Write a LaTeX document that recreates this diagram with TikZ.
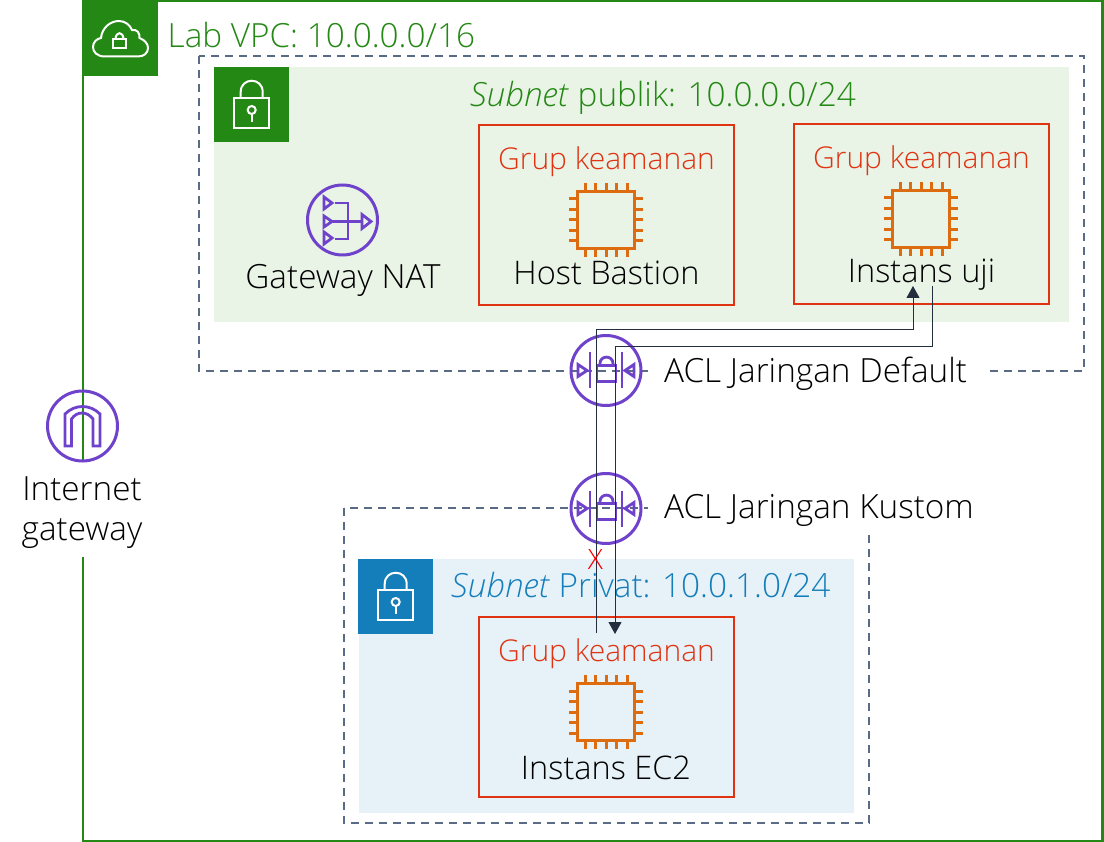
\documentclass[tikz,border=0pt]{standalone}
\usepackage{fontspec}
\setmainfont{Open Sans Light}[ItalicFont={Open Sans Light Italic}]
\usetikzlibrary{arrows.meta}
\definecolor{vpcgreen}{HTML}{248814}
\definecolor{pubfill}{HTML}{E9F3E6}
\definecolor{privfill}{HTML}{E6F2F8}
\definecolor{privblue}{HTML}{147EBA}
\definecolor{sgred}{HTML}{DF3312}
\definecolor{chip}{HTML}{DD6B10}
\definecolor{acl}{HTML}{6F42CC}
\definecolor{dash}{HTML}{5A6B86}
\definecolor{conn}{HTML}{232F3E}
\tikzset{
  x=1pt,y=-1pt,
  lbl/.style={font=\fontsize{33.3}{40}\selectfont,inner sep=0pt,text=black,align=center},
  redlbl/.style={font=\fontsize{30}{36}\selectfont,inner sep=0pt,text=sgred,align=center},
  sublbl/.style={font=\fontsize{32.5}{40}\selectfont,inner sep=0pt,text=black,align=center},
  sgbox/.style={draw=sgred,line width=2.2pt},
  dashbox/.style={draw=dash,line width=1.8pt,dash pattern=on 8pt off 6pt},
  link/.style={draw=conn,line width=1pt},
  linkarrow/.style={link,-{Triangle[length=12pt,width=13pt]}},
  icon/.style={draw=acl,line width=2.8pt,line join=miter},
  ring/.style={draw=acl,line width=3pt},
  whiteicon/.style={draw=white,line width=2pt},
  pics/aclicon/.style={code={
    \draw[ring] (0,0) circle (35);
    \draw[icon] (-16,-18) -- (-16,18) (16,-18) -- (16,18);
    \draw[icon] (-9,-5) rectangle (10,11);
    \draw[icon] (-6,-5) -- (-6,-7) .. controls (-6,-15.5) and (7,-15.5) .. (7,-7) -- (7,-5);
    \draw[icon] (-28,-6) -- (-19,0) -- (-28,6) -- cycle;
    \draw[icon] (28,-6) -- (19,0) -- (28,6) -- cycle;
  }},
  pics/chipicon/.style={code={
    \draw[draw=chip,line width=3.6pt] (-28.5,-28.5) rectangle (28.5,28.5);
    \foreach \t in {-21,-10.5,0,10.5,21}{
      \draw[draw=chip,line width=3pt] (\t,-28.5) -- (\t,-37) (\t,28.5) -- (\t,37)
        (-28.5,\t) -- (-37,\t) (28.5,\t) -- (37,\t);
    }
  }},
  pics/lockicon/.style={code={
    \draw[whiteicon] (-17.5,0) rectangle (17.5,30);
    \draw[whiteicon] (-11,0) -- (-11,-6) .. controls (-11,-21) and (11,-21) .. (11,-6) -- (11,0);
    \draw[whiteicon] (0,12) circle (4);
    \draw[whiteicon] (0,16) -- (0,24);
  }},
}
\begin{document}
\begin{tikzpicture}
\useasboundingbox (0,0) rectangle (1104,842);
\fill[white] (0,0) rectangle (1104,842);
% VPC
\draw[draw=vpcgreen,line width=2.2pt] (83,1) rectangle (1102.5,841);
\fill[white] (20,460) rectangle (146,557);
\fill[vpcgreen] (83,1) rectangle (158,76);
\draw[whiteicon] (105,56.5) .. controls (97,56.5) and (93,52) .. (93,47) .. controls (93,42) and (97,38.5) .. (101,38) .. controls (102,28) and (110,21) .. (119,21) .. controls (125,21) and (130,25) .. (132,30) .. controls (137,29) and (140,33) .. (139.5,38) .. controls (145,40) and (148,44) .. (148,48) .. controls (148,53) and (144,56.5) .. (138,56.5) -- cycle;
\draw[whiteicon] (112.7,39.5) rectangle (126,48);
\draw[whiteicon] (115.5,39.5) .. controls (115.5,31) and (123.5,31) .. (123.5,39.5);
\node[lbl,anchor=base west,text=vpcgreen] (vpclabel) at (167.5,48) {Lab VPC: 10.0.0.0/16};
% public subnet
\draw[dashbox] (199,56) rectangle (1084,371);
\fill[pubfill] (214,67) rectangle (1069,322);
\fill[vpcgreen] (214,67) rectangle (289,142);
\pic at (251.7,98) {lockicon};
\node[lbl,anchor=base west,text=vpcgreen] (publabel) at (470,107) {\textit{Subnet} publik: 10.0.0.0/24};
% private subnet
\draw[dashbox] (344,508) rectangle (869,823);
\fill[privfill] (359,559) rectangle (854,813);
\fill[privblue] (358,559) rectangle (433,634);
\pic at (395.7,590) {lockicon};
\node[lbl,anchor=base west,text=privblue] (privlabel) at (451,597) {\textit{Subnet} Privat: 10.0.1.0/24};
% covers behind ACL labels
\fill[white] (648,350) rectangle (988,392);
\fill[white] (648,488) rectangle (975,535);
% security groups
\draw[sgbox] (479,125) rectangle (734,305);
\draw[sgbox] (794,124) rectangle (1049,304);
\draw[sgbox] (479,617) rectangle (734,797);
\node[redlbl] (sg1) at (606.5,162) {Grup keamanan};
\node[redlbl] (sg2) at (921.5,161) {Grup keamanan};
\node[redlbl] (sg3) at (606.5,654) {Grup keamanan};
\pic at (606,220) {chipicon};
\pic at (921,219) {chipicon};
\pic at (606,712) {chipicon};
\node[sublbl] (bastion) at (606.5,273) {Host Bastion};
\node[sublbl] (uji) at (921.5,275) {Instans uji};
\node[sublbl] (ec2) at (606,768) {Instans EC2};
% NAT
\draw[ring] (342.5,220) circle (35);
\draw[icon] (324,197) -- (332,203) -- (324,209) -- cycle;
\draw[icon] (324,216) -- (332,221.5) -- (324,227) -- cycle;
\draw[icon] (324,232) -- (332,238) -- (324,244) -- cycle;
\draw[icon] (335,203) -- (348,203) -- (348,239) -- (335,239);
\draw[icon] (332,221.5) -- (362,221.5);
\draw[icon] (362,214.5) -- (371,221.5) -- (362,228.5) -- cycle;
\node[lbl] (nat) at (343,280) {Gateway NAT};
% IGW
\draw[ring] (82.5,426) circle (35);
\draw[icon] (65,446) -- (65,414) .. controls (75,404) and (90,404) .. (100,414) -- (100,446) -- (93,446) -- (93,419) .. controls (87,411) and (77,411) .. (71.5,419) -- (71.5,446) -- cycle;
\node[lbl] (igw) at (82,513) {Internet\\gateway};
% ACL
\pic at (606,370.5) {aclicon};
\pic at (606,508.5) {aclicon};
\node[lbl,anchor=base west] (acl1) at (664,383) {ACL Jaringan Default};
\node[lbl,anchor=base west] (acl2) at (664,518) {ACL Jaringan Kustom};
% connectors
\coordinate (upstart) at (596,633);
\coordinate (upend) at (913,286);
\coordinate (downstart) at (932,286);
\coordinate (downend) at (615,634);
\draw[linkarrow] (upstart) -- (596,330) -- (913,330) -- (upend);
\draw[linkarrow] (downstart) -- (932,347) -- (615,347) -- (downend);
\node[font=\fontsize{28}{32}\selectfont,inner sep=0pt,text=red] (xmark) at (595.5,560) {X};
\end{tikzpicture}
\end{document}
